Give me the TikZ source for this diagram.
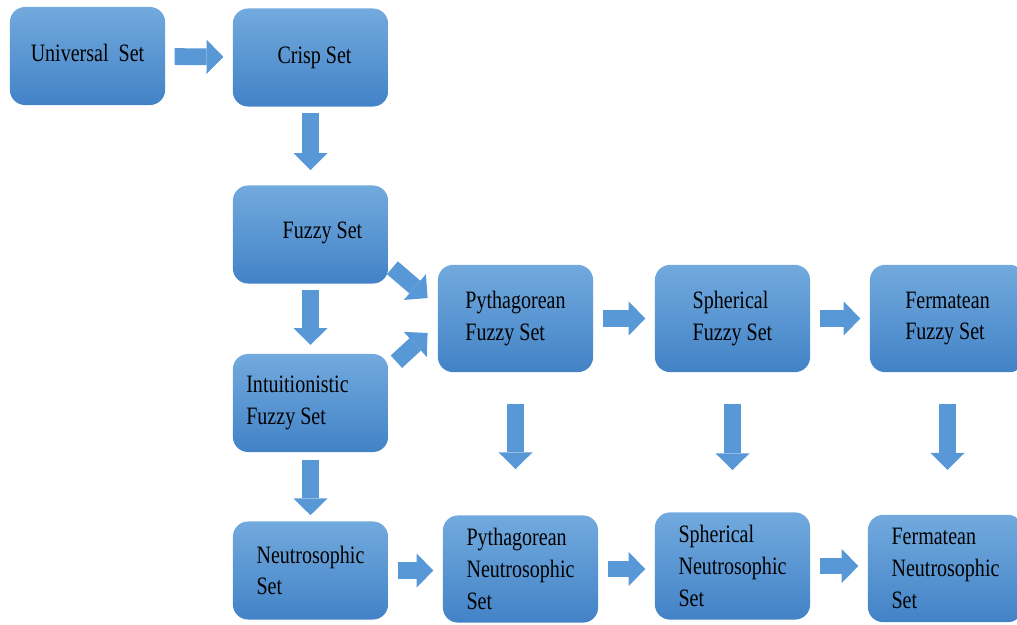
\documentclass[tikz,border=0pt]{standalone}
\usepackage{fontspec}
\setmainfont{Liberation Serif}[FakeStretch=0.8]
\usetikzlibrary{arrows.meta}

\definecolor{boxtop}{RGB}{114,170,222}
\definecolor{boxbot}{RGB}{66,130,198}
\definecolor{arrowblue}{RGB}{88,152,214}

\tikzset{
  setbox/.style={shade, top color=boxtop, bottom color=boxbot,
    rounded corners=0.38cm, minimum width=3.88cm, minimum height=2.45cm,
    align=left, inner sep=0pt, font=\fontsize{17.8}{22.5}\selectfont},
  tallbox/.style={setbox, minimum height=2.68cm},
  blockarrow/.style={arrowblue, line width=0.42cm,
    -{Triangle[width=0.85cm, length=0.42cm, line width=0pt]},
    shorten <=0.23cm, shorten >=0.23cm},
}

\begin{document}
\begin{tikzpicture}[x=0.025cm, y=-0.025cm]
\useasboundingbox (0,0) rectangle (1017,624);

% boxes
\node[setbox] (uni) at (87.5,56) {\raisebox{0.15cm}{Universal\ \ Set}};
\node[setbox] (crisp) at (310.5,57.5) {\hspace*{0.2cm}Crisp Set};
\node[setbox] (fuzzy) at (310.5,234.5) {\hspace*{0.6cm}\raisebox{0.2cm}{Fuzzy Set}};
\node[setbox] (intu) at (310.5,403) {Intuitionistic\hspace*{0.65cm}\\Fuzzy Set};
\node[setbox] (neut) at (310.5,570.5) {Neutrosophic\\Set};

\node[tallbox] (pyf) at (515.5,318.5) {Pythagorean\\Fuzzy Set};
\node[tallbox] (sphf) at (732.5,318.5) {Spherical\\Fuzzy Set};
\node[tallbox] (ferf) at (947.5,318.5) {Fermatean\\Fuzzy Set};

\node[tallbox] (pyn) at (520.5,569) {Pythagorean\\Neutrosophic\\Set};
\node[tallbox] (sphn) at (732.5,566) {Spherical\\Neutrosophic\\Set};
\node[tallbox] (fern) at (945.5,568.5) {Fermatean\\Neutrosophic\\Set};

% arrows
\draw[blockarrow] (uni) -- (crisp);
\draw[blockarrow, shorten <=0.15cm, shorten >=0.38cm] (crisp) -- (fuzzy);
\draw[blockarrow, shorten <=0.15cm, shorten >=0.22cm] (fuzzy) -- (intu);
\draw[blockarrow, shorten <=0.2cm, shorten >=0.15cm] (intu) -- (neut);

\draw[blockarrow, shorten <=0pt, shorten >=0pt]
  ([shift={(4,-16)}]fuzzy.south east) -- ([shift={(-10,-20.5)}]pyf.west);
\draw[blockarrow, shorten <=0pt, shorten >=0pt]
  ([shift={(8,8)}]intu.north east) -- ([shift={(-10,14.5)}]pyf.west);

\draw[blockarrow] (pyf) -- (sphf);
\draw[blockarrow] (sphf) -- (ferf);

\draw[blockarrow, shorten <=0.78cm, shorten >=1.15cm] (pyf.south) -- (pyf.south |- pyn.north);
\draw[blockarrow, shorten <=0.78cm, shorten >=1.05cm] (sphf.south) -- (sphf.south |- sphn.north);
\draw[blockarrow, shorten <=0.78cm, shorten >=1.12cm] (ferf.south) -- (ferf.south |- fern.north);

\draw[blockarrow] (neut.east) -- (neut.east -| pyn.west);
\draw[blockarrow] (pyn.east) -- (pyn.east -| sphn.west);
\draw[blockarrow] (sphn.east) -- (sphn.east -| fern.west);
\end{tikzpicture}
\end{document}
